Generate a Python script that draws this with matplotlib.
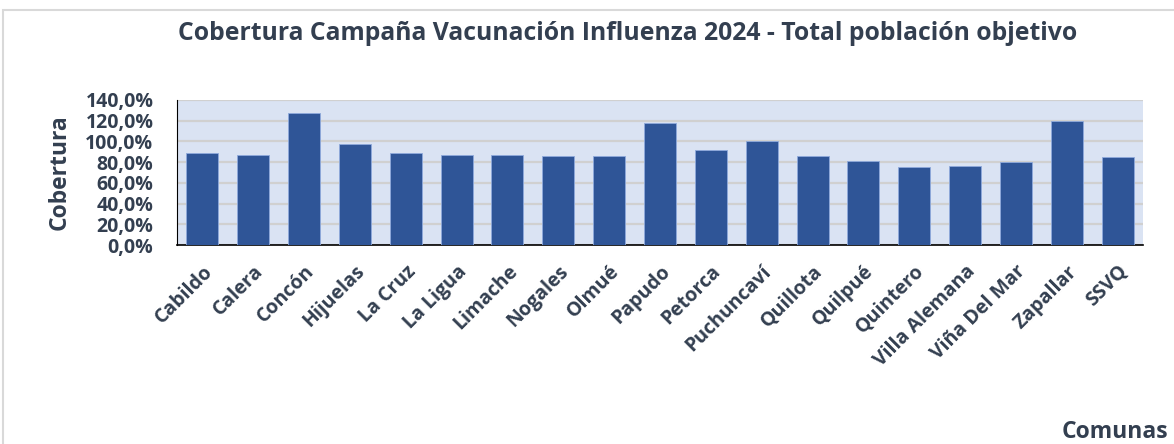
import matplotlib.pyplot as plt
from matplotlib.patches import Rectangle
from matplotlib.ticker import FuncFormatter

comunas = ['Cabildo', 'Calera', 'Concón', 'Hijuelas', 'La Cruz', 'La Ligua', 'Limache',
           'Nogales', 'Olmué', 'Papudo', 'Petorca', 'Puchuncaví', 'Quillota', 'Quilpué',
           'Quintero', 'Villa Alemana', 'Viña Del Mar', 'Zapallar', 'SSVQ']
cobertura = [89.1, 86.6, 127.1, 97.2, 88.5, 86.6, 86.6, 85.9, 85.6, 117.5,
             91.7, 100.1, 86.2, 81.1, 75.3, 75.9, 80.1, 119.7, 84.6]

txt = '#333F50'
plt.rcParams['font.family'] = ['Open Sans', 'DejaVu Sans']
plt.rcParams['font.weight'] = 'bold'

fig = plt.figure(figsize=(11.74, 4.44), dpi=100)
# chart border (cropped on the right and bottom)
fig.patches.append(Rectangle((3/1174, -0.1), 1.2, 1 - 10/444 + 0.1, transform=fig.transFigure,
                             fill=False, edgecolor='#D9D9D9', linewidth=1.5))

ax = fig.add_axes([177/1174, (444-245)/444, 966/1174, 145/444])
ax.set_facecolor('#DAE3F3')
x = range(len(comunas))
ax.bar(x, cobertura, width=0.63, color='#2F5597', edgecolor='#8FAADC', linewidth=0.6, zorder=3)

ax.set_xlim(-0.5, len(comunas) - 0.5)
ax.set_ylim(0, 140)
ax.set_yticks(range(0, 141, 20))
ax.yaxis.set_major_formatter(FuncFormatter(lambda v, p: f'{v:.1f}%'.replace('.', ',')))
ax.grid(axis='y', color='#D0D0D0', linewidth=1.6, zorder=0)
ax.set_axisbelow(True)
for s in ['top', 'right']:
    ax.spines[s].set_visible(False)
ax.spines['left'].set_color('black')
ax.spines['bottom'].set_color('black')
ax.spines['bottom'].set_linewidth(1.2)

ax.set_xticks(list(x))
ax.set_xticklabels(comunas, rotation=45, ha='right', rotation_mode='anchor',
                   fontsize=14, color=txt, fontweight='bold')
ax.tick_params(axis='x', length=0, pad=12)
ax.tick_params(axis='y', length=0, pad=17, labelsize=14, labelcolor=txt)

fig.text(60/1174, 1 - 172/444, 'Cobertura', rotation=90, ha='center', va='center',
         fontsize=16.5, color=txt, fontweight='bold')
fig.text(1115/1174, 1 - 432/444, 'Comunas', ha='center', va='center',
         fontsize=16.5, color=txt, fontweight='bold')
fig.text(628/1174, 1 - 33/444, 'Cobertura Campaña Vacunación Influenza 2024 - Total población objetivo',
         ha='center', va='center', fontsize=17.8, color=txt, fontweight='bold')

fig.savefig('out.png', dpi=100)
